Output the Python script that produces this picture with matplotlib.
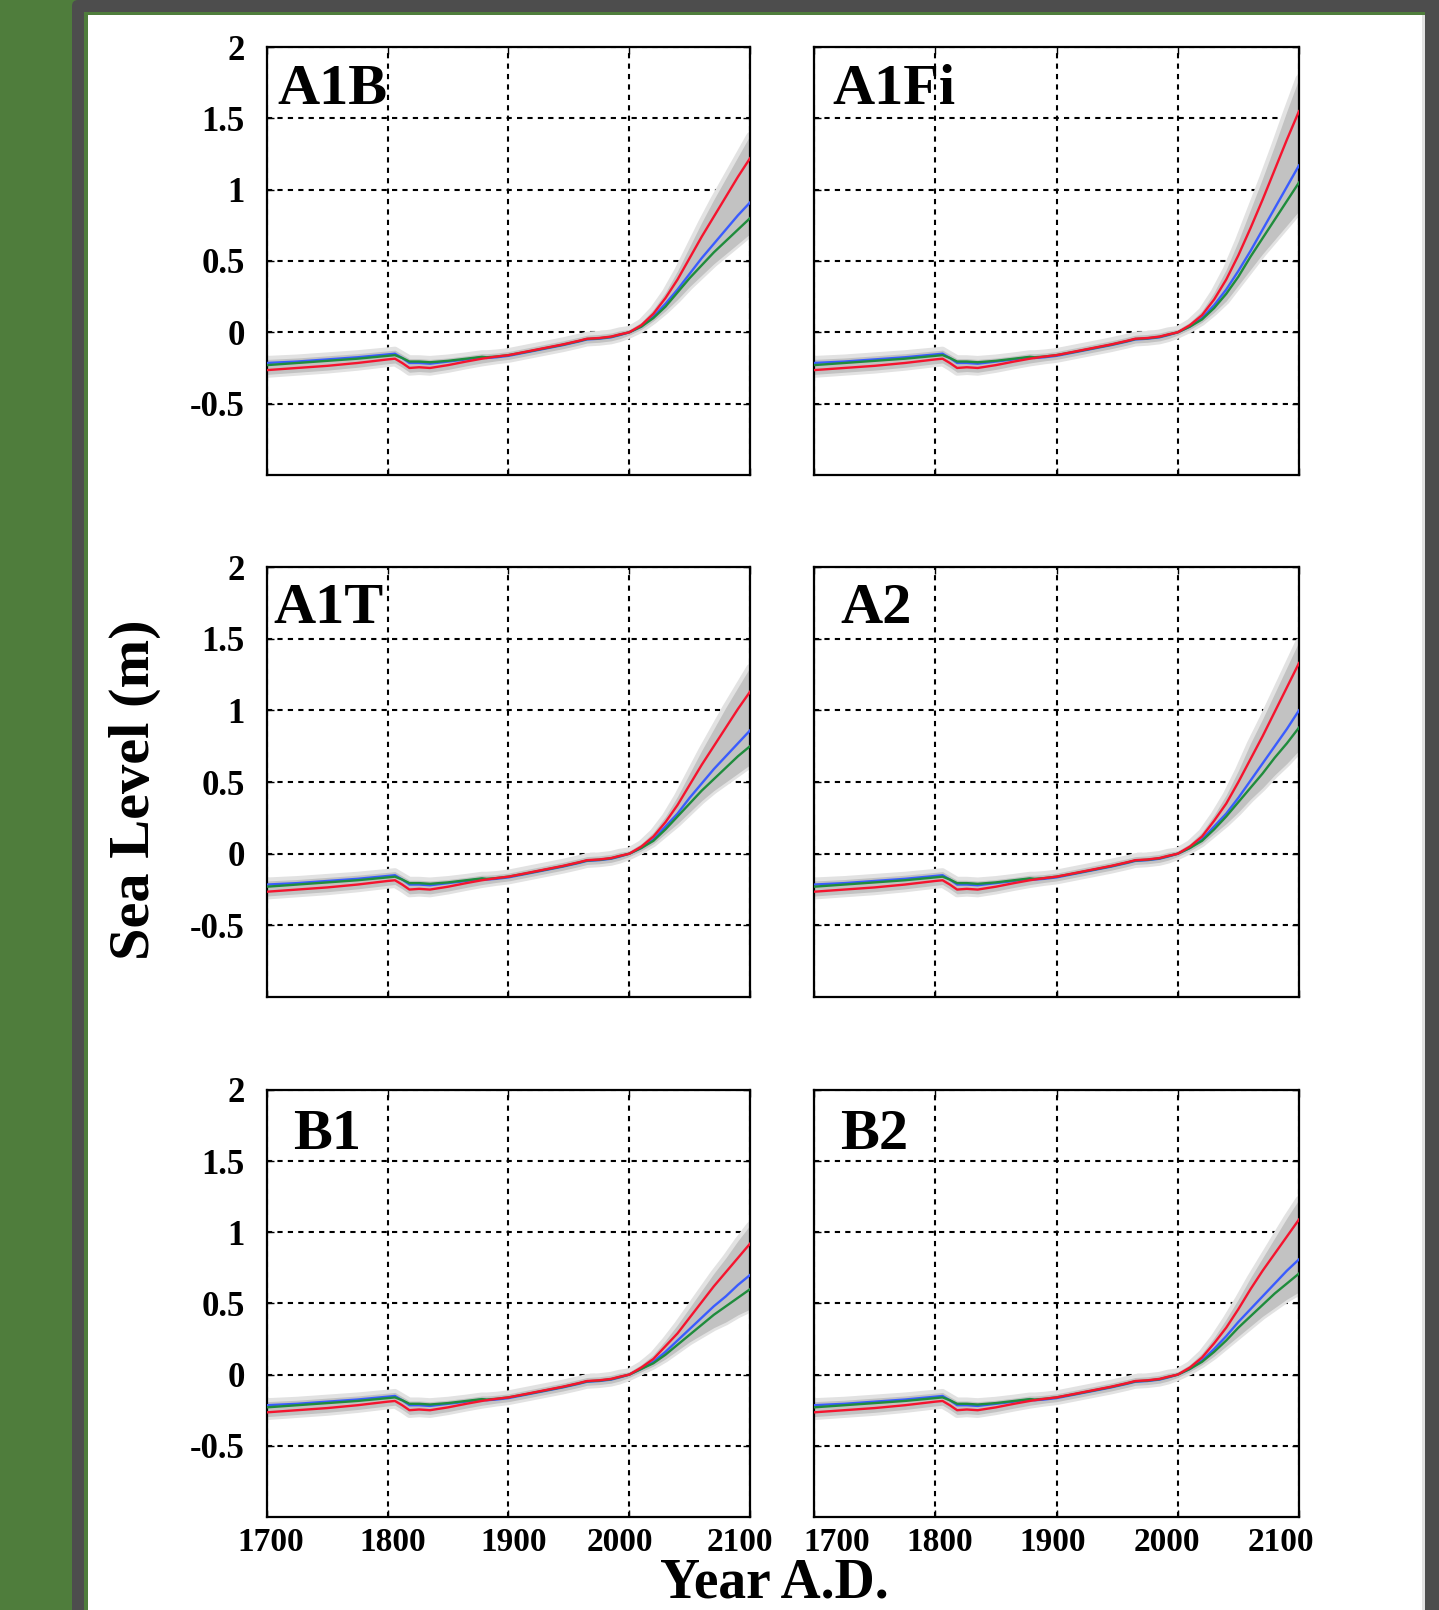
import matplotlib.pyplot as plt
from matplotlib.patches import Rectangle, FancyBboxPatch
from matplotlib.transforms import ScaledTranslation

plt.rcParams['font.family'] = ['Liberation Serif', 'DejaVu Serif']
plt.rcParams['font.weight'] = 'bold'

# shared history 1700-2000 (m)
years_hist = [1700, 1725, 1750, 1775, 1800, 1806, 1812, 1818, 1826, 1835, 1850, 1865,
              1878, 1882, 1890, 1900, 1915, 1930, 1945, 1958, 1965, 1975, 1985, 1992, 2000]
red_hist = [-0.265, -0.25, -0.235, -0.215, -0.19, -0.185, -0.215, -0.25, -0.245, -0.25, -0.23, -0.205,
            -0.185, -0.18, -0.17, -0.16, -0.135, -0.11, -0.085, -0.06, -0.045, -0.04, -0.03, -0.015, 0.0]
blue_hist = [-0.215, -0.205, -0.19, -0.175, -0.155, -0.15, -0.18, -0.215, -0.215, -0.22, -0.205, -0.19,
             -0.175, -0.18, -0.175, -0.165, -0.14, -0.115, -0.09, -0.065, -0.05, -0.045, -0.035, -0.02, 0.0]
green_hist = [-0.23, -0.215, -0.2, -0.185, -0.165, -0.16, -0.18, -0.205, -0.205, -0.21, -0.2, -0.185,
              -0.172, -0.175, -0.17, -0.16, -0.137, -0.112, -0.087, -0.062, -0.047, -0.042, -0.032, -0.017, 0.0]
upper_hist = [-0.19, -0.18, -0.165, -0.15, -0.13, -0.125, -0.155, -0.185, -0.185, -0.19, -0.18, -0.165,
              -0.15, -0.15, -0.145, -0.135, -0.11, -0.085, -0.06, -0.035, -0.02, -0.015, -0.005, 0.01, 0.02]
lower_hist = [-0.295, -0.28, -0.265, -0.245, -0.22, -0.215, -0.245, -0.28, -0.275, -0.28, -0.26, -0.235,
              -0.215, -0.21, -0.2, -0.19, -0.165, -0.14, -0.115, -0.09, -0.075, -0.07, -0.06, -0.045, -0.02]

# projections per scenario, 2010-2100
years_proj = [2010, 2020, 2030, 2040, 2050, 2060, 2070, 2080, 2090, 2100]
scenarios = ['A1B', 'A1Fi', 'A1T', 'A2', 'B1', 'B2']
red_proj = {
    'A1B': [0.05, 0.13, 0.24, 0.37, 0.52, 0.67, 0.81, 0.95, 1.09, 1.22],
    'A1Fi': [0.05, 0.12, 0.23, 0.37, 0.54, 0.73, 0.93, 1.14, 1.35, 1.55],
    'A1T': [0.05, 0.12, 0.22, 0.34, 0.48, 0.62, 0.75, 0.88, 1.01, 1.13],
    'A2': [0.05, 0.12, 0.23, 0.35, 0.50, 0.66, 0.82, 0.99, 1.16, 1.33],
    'B1': [0.05, 0.11, 0.20, 0.29, 0.40, 0.51, 0.62, 0.72, 0.82, 0.92],
    'B2': [0.05, 0.12, 0.22, 0.33, 0.46, 0.60, 0.73, 0.85, 0.97, 1.09],
}
blue_proj = {
    'A1B': [0.04, 0.11, 0.20, 0.30, 0.41, 0.52, 0.62, 0.72, 0.82, 0.91],
    'A1Fi': [0.04, 0.10, 0.19, 0.30, 0.43, 0.57, 0.72, 0.87, 1.02, 1.17],
    'A1T': [0.04, 0.10, 0.19, 0.28, 0.39, 0.49, 0.59, 0.68, 0.77, 0.86],
    'A2': [0.04, 0.10, 0.19, 0.28, 0.39, 0.51, 0.63, 0.75, 0.87, 1.00],
    'B1': [0.04, 0.09, 0.16, 0.24, 0.32, 0.40, 0.48, 0.55, 0.63, 0.70],
    'B2': [0.04, 0.10, 0.18, 0.27, 0.37, 0.46, 0.55, 0.64, 0.73, 0.81],
}
green_proj = {
    'A1B': [0.04, 0.10, 0.18, 0.28, 0.38, 0.47, 0.56, 0.64, 0.72, 0.80],
    'A1Fi': [0.04, 0.09, 0.17, 0.27, 0.39, 0.53, 0.66, 0.79, 0.92, 1.05],
    'A1T': [0.04, 0.09, 0.17, 0.26, 0.35, 0.44, 0.52, 0.60, 0.68, 0.75],
    'A2': [0.04, 0.09, 0.17, 0.26, 0.36, 0.46, 0.56, 0.67, 0.77, 0.88],
    'B1': [0.04, 0.08, 0.14, 0.21, 0.28, 0.35, 0.42, 0.48, 0.54, 0.60],
    'B2': [0.04, 0.09, 0.16, 0.24, 0.33, 0.41, 0.49, 0.57, 0.64, 0.71],
}
upper_proj = {
    'A1B': [0.07, 0.16, 0.28, 0.43, 0.60, 0.77, 0.93, 1.08, 1.23, 1.38],
    'A1Fi': [0.07, 0.15, 0.28, 0.44, 0.64, 0.86, 1.08, 1.31, 1.55, 1.78],
    'A1T': [0.07, 0.15, 0.26, 0.40, 0.56, 0.72, 0.87, 1.02, 1.16, 1.30],
    'A2': [0.07, 0.15, 0.27, 0.41, 0.58, 0.77, 0.94, 1.12, 1.30, 1.48],
    'B1': [0.07, 0.14, 0.24, 0.35, 0.47, 0.59, 0.71, 0.82, 0.94, 1.05],
    'B2': [0.07, 0.15, 0.26, 0.39, 0.53, 0.68, 0.82, 0.96, 1.10, 1.23],
}
lower_proj = {
    'A1B': [0.02, 0.08, 0.15, 0.23, 0.32, 0.40, 0.48, 0.55, 0.62, 0.69],
    'A1Fi': [0.02, 0.07, 0.14, 0.22, 0.33, 0.44, 0.55, 0.65, 0.75, 0.85],
    'A1T': [0.02, 0.07, 0.14, 0.21, 0.29, 0.37, 0.44, 0.50, 0.56, 0.62],
    'A2': [0.02, 0.07, 0.14, 0.21, 0.29, 0.38, 0.46, 0.55, 0.63, 0.72],
    'B1': [0.02, 0.06, 0.11, 0.17, 0.23, 0.28, 0.33, 0.37, 0.42, 0.46],
    'B2': [0.02, 0.07, 0.13, 0.20, 0.27, 0.34, 0.41, 0.47, 0.53, 0.58],
}

xticks = [1700, 1800, 1900, 2000, 2100]
xtick_labels = ['1700', '1800', '1900', '2000', '2100']
yticks = [-0.5, 0, 0.5, 1, 1.5, 2]
ytick_labels = ['-0.5', '0', '0.5', '1', '1.5', '2']

W, H = 1439, 1610
fig = plt.figure(figsize=(W / 100, H / 100), dpi=100, facecolor='#4f7d3c')

# page frame
bg = fig.add_axes([0, 0, 1, 1], zorder=-10)
bg.set_xlim(0, W)
bg.set_ylim(H, 0)
bg.axis('off')
bg.add_patch(FancyBboxPatch((78, 6), W, H, boxstyle='round,pad=6', color='#4d4d4d', lw=0))
bg.add_patch(Rectangle((84, 12), 1341, H, color='#4f7d3c', lw=0))
bg.add_patch(Rectangle((88, 15), 1337, H, color='white', lw=0))
bg.add_patch(Rectangle((1422, 15), 3, H, color='#e2e2e2', lw=0))

lefts = [0.1855, 0.5657]
widths = [0.3357, 0.337]
bottoms = [0.7050, 0.3807, 0.0578]
heights = [0.2658, 0.2671, 0.2652]
label_dx = [10, 18, 6, 26, 26, 26]
label_dy = [17, 17, 16, 16, 19, 19]
# horizontal nudges (px) of the bottom tick labels, left and right column
xlabel_shift = [[4, 5, 5, -9, -10], [23, 4, -4, -11, -18]]

for i, sc in enumerate(scenarios):
    row, col = divmod(i, 2)
    ax = fig.add_axes([lefts[col], bottoms[row], widths[col], heights[row]])
    yrs = years_hist + years_proj
    up = upper_hist + upper_proj[sc]
    lo = lower_hist + lower_proj[sc]
    ax.fill_between(yrs, lo, up, facecolor='none', edgecolor='#e2e2e2', lw=5, zorder=1.8)
    ax.fill_between(yrs, lo, up, color='#c2c2c2', lw=0, zorder=1.9)
    ax.plot(yrs, blue_hist + blue_proj[sc], color='#3a5cff', lw=1.7, zorder=3)
    ax.plot(yrs, green_hist + green_proj[sc], color='#1f8c3c', lw=1.7, zorder=3)
    ax.plot(yrs, red_hist + red_proj[sc], color='#f5142e', lw=1.7, zorder=3)

    ax.set_xlim(1700, 2100)
    ax.set_ylim(-1, 2)
    ax.set_xticks(xticks)
    ax.set_yticks(yticks)
    ax.grid(True, color='black', linestyle=(0, (2.5, 2.5)), linewidth=1.5)
    ax.set_axisbelow(True)
    ax.tick_params(direction='in', length=5, width=1, top=True, right=True,
                   labelsize=25, pad=7)
    for s in ax.spines.values():
        s.set_linewidth(1.6)
    if row == 2:
        ax.set_xticklabels(xtick_labels, fontweight='bold', fontsize=24)
        for lab, dx in zip(ax.get_xticklabels(), xlabel_shift[col]):
            lab.set_transform(lab.get_transform() + ScaledTranslation(dx / 100, 0, fig.dpi_scale_trans))
    else:
        ax.set_xticklabels([])
    if col == 0:
        ax.set_yticklabels(ytick_labels, fontweight='bold')
        ax.tick_params(axis='y', pad=16)
    else:
        ax.set_yticklabels([])
    ax.annotate(sc, xy=(0, 1), xycoords='axes fraction',
                xytext=(label_dx[i], -label_dy[i]), textcoords='offset pixels',
                fontsize=42, fontweight='bold', ha='left', va='top')

fig.text(135 / W, 1 - 790 / H, 'Sea Level (m)', rotation=90, fontsize=42,
         fontweight='bold', ha='center', va='center')
fig.text(774 / W, 1 - 1597 / H, 'Year A.D.', fontsize=40, fontweight='bold',
         ha='center', va='baseline')

fig.savefig('out.png', dpi=100, facecolor=fig.get_facecolor())
